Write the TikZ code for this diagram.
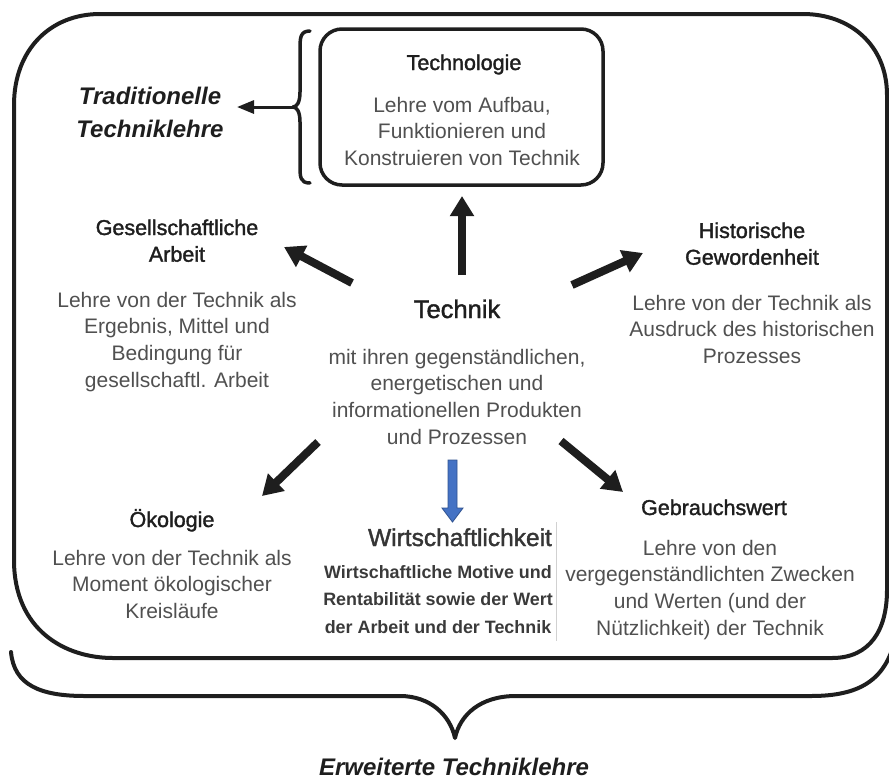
\documentclass[tikz,border=0pt]{standalone}
\usepackage{fontspec}
\setmainfont{Liberation Sans}
\newfontfamily\medfont{Liberation Sans}[FakeBold=1.6]
\usetikzlibrary{arrows.meta}
\definecolor{ink}{HTML}{1E1E1E}
\definecolor{bodygray}{HTML}{505050}
\definecolor{wgray}{HTML}{3A3A3A}
\definecolor{arrowblue}{HTML}{4472C4}
\definecolor{arrowblueedge}{HTML}{2F528F}
% centred block of lines; the node's base is the first line's baseline
\newcommand\clines[1]{\vtop{\halign{\hfil##\hfil\cr#1\crcr}}}
\tikzset{
  frame/.style={draw=ink, line width=4pt, line join=round},
  bracket/.style={draw=ink, line width=3.5pt, line cap=round, line join=round},
  heading/.style={anchor=base, inner sep=0pt, text=ink, font=\medfont\fontsize{21.5}{26.7}\selectfont},
  bodytext/.style={anchor=base, inner sep=0pt, text=bodygray, font=\fontsize{21}{26.7}\selectfont},
  label/.style={anchor=base, inner sep=0pt, text=ink, font=\bfseries\itshape\fontsize{24}{33}\selectfont},
  bigarrow/.style={draw=ink, line width=8pt, -{Triangle[length=20pt, width=23pt]}},
  thinarrow/.style={draw=ink, line width=3pt, -{Triangle[length=17pt, width=13pt]}},
}
\begin{document}
\begin{tikzpicture}[x=1pt, y=-1pt]
\useasboundingbox (0,0) rectangle (889,780);

% outer frame of the extended field
\draw[frame] (100,14) -- (803,14)
  .. controls (850,14) and (887,45) .. (887,95) -- (887,590)
  .. controls (887,630) and (870,658) .. (832,658) -- (113,658)
  .. controls (65,658) and (14,630) .. (14,560) -- (14,105)
  .. controls (14,50) and (50,14) .. (100,14) -- cycle;

% Technologie box
\node[draw=ink, line width=3.5pt, rounded corners=22pt, minimum width=283pt,
      minimum height=156pt, inner sep=0pt] (techbox) at (461.5,107) {};
\node[heading] (technologie) at (464,70) {Technologie};
\node[bodytext] (technologiebody) at (462,112)
  {\clines{Lehre vom Aufbau,\cr Funktionieren und\cr Konstruieren von Technik}};

% brace collecting the traditional field
\coordinate (bracetip) at (293,107);
\draw[bracket] (310,31) .. controls (300,31) and (300,38) .. (300,50) -- (300,92)
  .. controls (300,102) and (297,107) .. (bracetip)
  .. controls (297,107) and (300,112) .. (300,122) -- (300,165)
  .. controls (300,177) and (300,183) .. (310,183);
\node[label] (traditionell) at (150,104) {\clines{Traditionelle\cr Techniklehre}};
\coordinate (tradtip) at (237,107);
\draw[thinarrow] (bracetip) -- (tradtip);

% central node
\node[anchor=base, inner sep=0pt, text=ink, font=\medfont\fontsize{25.5}{30}\selectfont]
  (technik) at (457,318) {Technik};
\node[bodytext] (technikbody) at (457,364)
  {\clines{mit ihren gegenständlichen,\cr energetischen und\cr informationellen Produkten\cr und Prozessen}};

% surrounding aspects
\node[heading] (gesell) at (177,235) {\clines{Gesellschaftliche\cr Arbeit}};
\node[bodytext] (gesellbody) at (177,307)
  {\clines{Lehre von der Technik als\cr Ergebnis, Mittel und\cr Bedingung für\cr gesellschaftl. Arbeit}};

\node[heading] (hist) at (752,238) {\clines{Historische\cr Gewordenheit}};
\node[bodytext] (histbody) at (752,310)
  {\clines{Lehre von der Technik als\cr Ausdruck des historischen\cr Prozesses}};

\node[heading] (oeko) at (172,527) {Ökologie};
\node[bodytext] (oekobody) at (172,565)
  {\clines{Lehre von der Technik als\cr Moment ökologischer\cr Kreisläufe}};

\node[heading] (gebrauch) at (714,515) {Gebrauchswert};
\node[bodytext] (gebrauchbody) at (710,555)
  {\clines{Lehre von den\cr vergegenständlichten Zwecken\cr und Werten (und der\cr Nützlichkeit) der Technik}};

\node[anchor=base, inner sep=0pt, text=ink!90, font=\medfont\fontsize{24.5}{30}\selectfont]
  (wirt) at (460,546) {Wirtschaftlichkeit};
\node[anchor=base, inner sep=0pt, text=wgray, font=\bfseries\fontsize{17.9}{27.5}\selectfont]
  (wirtbody) at (438,578)
  {\clines{Wirtschaftliche Motive und\cr Rentabilität sowie der Wert\cr der Arbeit und der Technik}};
\coordinate (seamtop) at (556,522);
\coordinate (seambot) at (556,641);
\draw[black!18, line width=0.8pt] (seamtop) -- (seambot);

% arrows out of the centre
\coordinate (upfrom) at (462,275);   \coordinate (upto) at (462,196);
\coordinate (ulfrom) at (352,283);   \coordinate (ulto) at (284,247);
\coordinate (urfrom) at (572,285);   \coordinate (urto) at (643,253);
\coordinate (llfrom) at (318,442);   \coordinate (llto) at (262,496);
\coordinate (lrfrom) at (561,441);   \coordinate (lrto) at (623,492);
\draw[bigarrow] (upfrom) -- (upto);
\draw[bigarrow] (ulfrom) -- (ulto);
\draw[bigarrow] (urfrom) -- (urto);
\draw[bigarrow] (llfrom) -- (llto);
\draw[bigarrow] (lrfrom) -- (lrto);

% blue block arrow towards Wirtschaftlichkeit
\coordinate (blueA) at (448,460);
\coordinate (blueB) at (457,460);
\coordinate (blueC) at (457,508);
\coordinate (blueD) at (463,508);
\coordinate (blueTip) at (452.5,522);
\coordinate (blueE) at (442,508);
\coordinate (blueF) at (448,508);
\filldraw[fill=arrowblue, draw=arrowblueedge, line width=0.8pt, line join=miter]
  (blueA) -- (blueB) -- (blueC) -- (blueD) -- (blueTip) -- (blueE) -- (blueF) -- cycle;

% brace collecting the extended field
\coordinate (bracebot) at (455,738);
\draw[bracket, line width=4pt] (11,652) .. controls (14,685) and (40,696) .. (85,696) -- (400,696)
  .. controls (430,696) and (450,715) .. (bracebot)
  .. controls (460,715) and (480,696) .. (516,696) -- (811,696)
  .. controls (860,696) and (885,680) .. (895,640);
\node[label] (erweitert) at (454,775) {Erweiterte Techniklehre};
\end{tikzpicture}
\end{document}
